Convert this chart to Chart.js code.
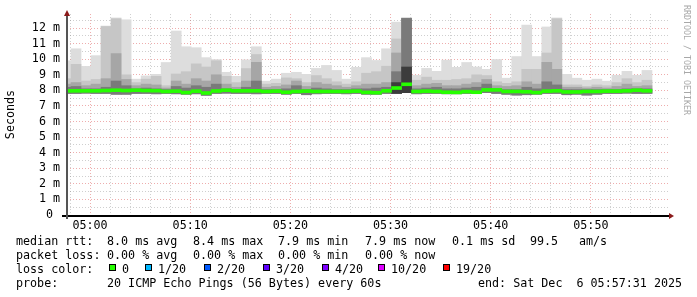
<!DOCTYPE html>
<html>
<head>
<meta charset="utf-8">
<script src="https://cdn.jsdelivr.net/npm/chart.js@4.4.1/dist/chart.umd.min.js"></script>
<style>
  body { margin: 0; background: #fff; }
  #wrap { position: relative; width: 697px; height: 297px; overflow: hidden; }
  #chart { position: absolute; left: 0; top: 0; }
  .t { position: absolute; font: 11.7px 'DejaVu Sans Mono', monospace; white-space: pre; line-height: 14px; color: #000; }
  .box { position: absolute; width: 5px; height: 5px; border: 1px solid #000; }
  #mark { position: absolute; left: 682px; top: 5px; writing-mode: vertical-rl; font: 8.3px 'DejaVu Sans Mono', monospace; color: #a8a8a8; white-space: pre; }
</style>
</head>
<body>
<div id="wrap">
  <canvas id="chart" width="697" height="297"></canvas>
  <div id="mark">RRDTOOL / TOBI OETIKER</div>
</div>
<script>
// one rrd step per minute (start of step)
const times = ['04:57','04:58','04:59',
  '05:00','05:01','05:02','05:03','05:04','05:05','05:06','05:07','05:08','05:09',
  '05:10','05:11','05:12','05:13','05:14','05:15','05:16','05:17','05:18','05:19',
  '05:20','05:21','05:22','05:23','05:24','05:25','05:26','05:27','05:28','05:29',
  '05:30','05:31','05:32','05:33','05:34','05:35','05:36','05:37','05:38','05:39',
  '05:40','05:41','05:42','05:43','05:44','05:45','05:46','05:47','05:48','05:49',
  '05:50','05:51','05:52','05:53','05:54','05:55'];

// ping rtt in ms
const pingMax = [9.9, 10.67, 9.54,
  10.23, 12.13, 12.65, 12.53, 8.72, 8.93, 9.03, 9.79, 11.81, 10.8,
  10.74, 10.1, 9.98, 9.16, 8.9, 9.96, 10.8, 8.59, 8.72, 9.1,
  9.16, 9.03, 9.41, 9.6, 9.28, 8.72, 9.48, 10.1, 9.92, 10.67,
  12.38, 12.65, 8.97, 9.41, 9.22, 9.94, 9.48, 9.79, 9.5, 9.35,
  9.98, 8.78, 10.17, 12.19, 10.17, 12.07, 12.65, 9.03, 8.78, 8.65,
  8.72, 8.59, 8.97, 9.22, 8.97, 9.28];
const smoke2 = [8.75, 9.67, 8.6,
  8.7, 12.1, 12.6, 9.0, 8.5, 8.72, 8.9, 8.3, 9.05, 9.2,
  9.7, 9.5, 9.9, 8.9, 8.5, 9.4, 10.3, 8.4, 8.45, 8.8,
  8.75, 8.5, 8.95, 8.75, 8.55, 8.4, 8.55, 9.1, 9.2, 9.55,
  11.3, 12.64, 8.65, 8.85, 8.65, 8.65, 8.7, 8.75, 9.0, 8.95,
  8.55, 8.45, 8.55, 9.35, 9.35, 10.4, 12.6, 8.35, 8.35, 8.25,
  8.35, 8.3, 8.5, 8.75, 8.5, 8.65];
const smoke3 = [8.4, 8.5, 8.3,
  8.4, 8.75, 10.36, 8.7, 8.3, 8.4, 8.35, 8.15, 8.6, 8.4,
  8.75, 8.6, 9.0, 8.4, 8.2, 8.6, 9.8, 8.2, 8.25, 8.35,
  8.6, 8.25, 8.5, 8.4, 8.3, 8.2, 8.3, 8.4, 8.4, 8.5,
  10.4, 12.63, 8.3, 8.4, 8.45, 8.3, 8.3, 8.4, 8.5, 8.7,
  8.3, 8.25, 8.3, 8.55, 8.4, 9.8, 9.35, 8.2, 8.2, 8.15,
  8.2, 8.15, 8.25, 8.4, 8.25, 8.3];
const smoke4 = [8.2, 8.25, 8.1,
  8.1, 8.2, 8.6, 8.3, 8.1, 8.15, 8.1, 8.05, 8.25, 8.15,
  8.3, 8.2, 8.4, 8.1, 8.05, 8.2, 8.6, 8.05, 8.05, 8.1,
  8.3, 8.05, 8.15, 8.1, 8.05, 8.05, 8.1, 8.1, 8.15, 8.2,
  9.2, 12.62, 8.1, 8.15, 8.2, 8.1, 8.1, 8.15, 8.2, 8.4,
  8.1, 8.05, 8.05, 8.2, 8.1, 8.55, 8.35, 8.05, 8.05, 8.05,
  8.05, 8.05, 8.05, 8.1, 8.1, 8.1];
const smoke5 = [null, null, null,
  null, null, null, null, null, null, null, null, null, null,
  null, null, null, null, null, null, null, null, null, null,
  null, null, null, null, null, null, null, null, null, null,
  8.5, 9.5, null, null, null, null, null, null, null, null,
  null, null, null, null, null, null, null, null, null, null,
  null, null, null, null, null, null];
const median = [7.97, 7.97, 7.97,
  7.97, 7.99, 8.01, 7.99, 8.01, 7.99, 7.98, 7.93, 7.95, 7.86,
  7.95, 7.83, 7.96, 8.01, 7.97, 7.97, 7.97, 7.93, 7.95, 7.88,
  7.93, 7.95, 7.93, 7.93, 7.93, 7.93, 7.95, 7.87, 7.85, 7.97,
  8.15, 8.39, 7.93, 7.95, 7.93, 7.88, 7.87, 7.92, 7.88, 8.03,
  8.03, 7.93, 7.93, 7.91, 7.86, 7.95, 7.97, 7.9, 7.9, 7.93,
  7.93, 7.95, 7.95, 7.97, 8.01, 7.97];
const pingMin = [7.8, 7.8, 7.82,
  7.8, 7.8, 7.75, 7.75, 7.8, 7.8, 7.78, 7.8, 7.78, 7.75,
  7.78, 7.68, 7.8, 7.82, 7.8, 7.8, 7.78, 7.8, 7.8, 7.75,
  7.8, 7.72, 7.78, 7.8, 7.8, 7.78, 7.8, 7.75, 7.75, 7.8,
  7.8, 7.85, 7.78, 7.8, 7.8, 7.78, 7.78, 7.8, 7.8, 7.85,
  7.8, 7.75, 7.7, 7.72, 7.75, 7.8, 7.8, 7.72, 7.75, 7.7,
  7.75, 7.8, 7.8, 7.82, 7.8, 7.8];

const rttStats = ['8.0 ms avg', '8.4 ms max', '7.9 ms min', '7.9 ms now', '0.1 ms sd'];
const lossStats = ['0.00 % avg', '0.00 % max', '0.00 % min', '0.00 % now'];
const lossLabels = ['0', '1/20', '2/20', '3/20', '4/20', '10/20', '19/20'];
const lossColors = ['#26ff00', '#00b8ff', '#0059ff', '#5e00ff', '#7e00ff', '#dd00ff', '#ff0000'];

const STEP_OFFSET = 0.1;   // steps end a few seconds past the minute
const MEDIAN_HALF = 0.095; // median drawn as a 3px band
const shades = ['#dddddd', '#c6c6c6', '#a6a6a6', '#7a7a7a', '#3c3c3c'];
const smokeTops = [pingMax, smoke2, smoke3, smoke4, smoke5];

function toMin(t) {
  const [h, m] = t.split(':').map(Number);
  return (h - 5) * 60 + m;
}

function floating(lows, highs) {
  return times.map((t, i) => highs[i] == null ? null :
    { x: toMin(t) + 0.5 + STEP_OFFSET, y: [lows[i], highs[i]] }).filter(Boolean);
}

const barOpts = { grouped: false, barPercentage: 1, categoryPercentage: 1, borderWidth: 0 };

const datasets = smokeTops.map((tops, i) => Object.assign({
  label: 'smoke' + (i + 1),
  data: floating(pingMin, tops),
  backgroundColor: shades[i],
  order: 10 - i
}, barOpts));

datasets.push(Object.assign({
  label: 'median rtt',
  data: floating(median.map(v => v - MEDIAN_HALF), median.map(v => v + MEDIAN_HALF)),
  backgroundColor: lossColors[0],
  order: 0
}, barOpts));

const monoFont = { family: "'DejaVu Sans Mono', monospace", size: 11.7 };
const majorGrid = 'rgba(215,60,60,0.42)';
const minorGrid = 'rgba(128,128,128,0.38)';

const axesPlugin = {
  id: 'rrdAxes',
  afterDraw(chart) {
    const { ctx, chartArea: a } = chart;
    ctx.save();
    ctx.fillStyle = '#000';
    ctx.fillRect(a.left - 5, a.bottom, a.right - a.left + 6, 2);
    ctx.fillStyle = '#555';
    ctx.fillRect(a.left - 1, a.top - 1, 2, a.bottom - a.top + 5);
    ctx.fillStyle = '#8b1a1a';
    ctx.beginPath();
    ctx.moveTo(a.left - 3, a.top + 2);
    ctx.lineTo(a.left + 3, a.top + 2);
    ctx.lineTo(a.left, a.top - 4);
    ctx.closePath();
    ctx.fill();
    ctx.beginPath();
    ctx.moveTo(a.right + 1, a.bottom - 2);
    ctx.lineTo(a.right + 1, a.bottom + 4);
    ctx.lineTo(a.right + 6, a.bottom + 1);
    ctx.closePath();
    ctx.fill();
    ctx.restore();
  }
};

new Chart(document.getElementById('chart'), {
  type: 'bar',
  data: { datasets },
  options: {
    responsive: false,
    animation: false,
    layout: { padding: { left: 0, top: 11, right: 29, bottom: 62 } },
    plugins: { legend: { display: false }, tooltip: { enabled: false } },
    scales: {
      x: {
        type: 'linear',
        min: -2.3,
        max: 57.7,
        offset: false,
        z: 1,
        afterBuildTicks(s) {
          const ticks = [];
          for (let v = -2; v <= 56; v += 2) ticks.push({ value: v });
          s.ticks = ticks;
        },
        afterFit(s) { s.height = 20; },
        grid: {
          offset: false,
          drawTicks: false,
          color: c => c.tick && c.tick.value % 10 === 0 ? majorGrid : minorGrid
        },
        border: { display: false, dash: [1, 2] },
        ticks: {
          autoSkip: false,
          maxRotation: 0,
          padding: 4,
          color: '#000',
          font: monoFont,
          callback: v => v % 10 === 0 ? '05:' + String(v).padStart(2, '0') : ''
        }
      },
      y: {
        min: 0,
        max: 12.9,
        z: 1,
        afterBuildTicks(s) {
          const ticks = [];
          for (let v = 0; v <= 12.5; v += 0.5) ticks.push({ value: v });
          s.ticks = ticks;
        },
        afterFit(s) { s.width = 67; },
        grid: {
          drawTicks: false,
          color: c => c.tick && c.tick.value % 1 === 0 ? majorGrid : minorGrid
        },
        border: { display: false, dash: [1, 2] },
        title: {
          display: true,
          text: 'Seconds',
          color: '#000',
          font: monoFont,
          padding: { top: 4, bottom: 0 }
        },
        ticks: {
          autoSkip: false,
          padding: 7,
          color: '#000',
          font: monoFont,
          callback: v => v % 1 !== 0 ? '' : (v === 0 ? '0 ' : v + ' m')
        }
      }
    }
  },
  plugins: [axesPlugin]
});

// legend rows under the graph
const wrap = document.getElementById('wrap');
function text(x, y, s) {
  const d = document.createElement('div');
  d.className = 't';
  d.style.left = x + 'px';
  d.style.top = (y - 7.5) + 'px';
  d.textContent = s;
  wrap.appendChild(d);
}
function box(x, y, color) {
  const d = document.createElement('div');
  d.className = 'box';
  d.style.left = x + 'px';
  d.style.top = y + 'px';
  d.style.background = color;
  wrap.appendChild(d);
}

const statX = [107, 193, 278, 365, 452];
text(16, 241, 'median rtt:');
rttStats.forEach((s, i) => text(statX[i], 241, s));
text(530, 241, '99.5');
text(579, 241, 'am/s');

text(16, 255, 'packet loss:');
lossStats.forEach((s, i) => text(statX[i], 255, s));

text(16, 269, 'loss color:');
const boxX = [109, 145, 204, 263, 322, 378, 443];
lossLabels.forEach((s, i) => {
  box(boxX[i], 264, lossColors[i]);
  text(boxX[i] + 13, 269, s);
});

text(16, 283, 'probe:');
text(107, 283, '20 ICMP Echo Pings (56 Bytes) every 60s');
text(478, 283, 'end: Sat Dec  6 05:57:31 2025');
</script>
</body>
</html>
